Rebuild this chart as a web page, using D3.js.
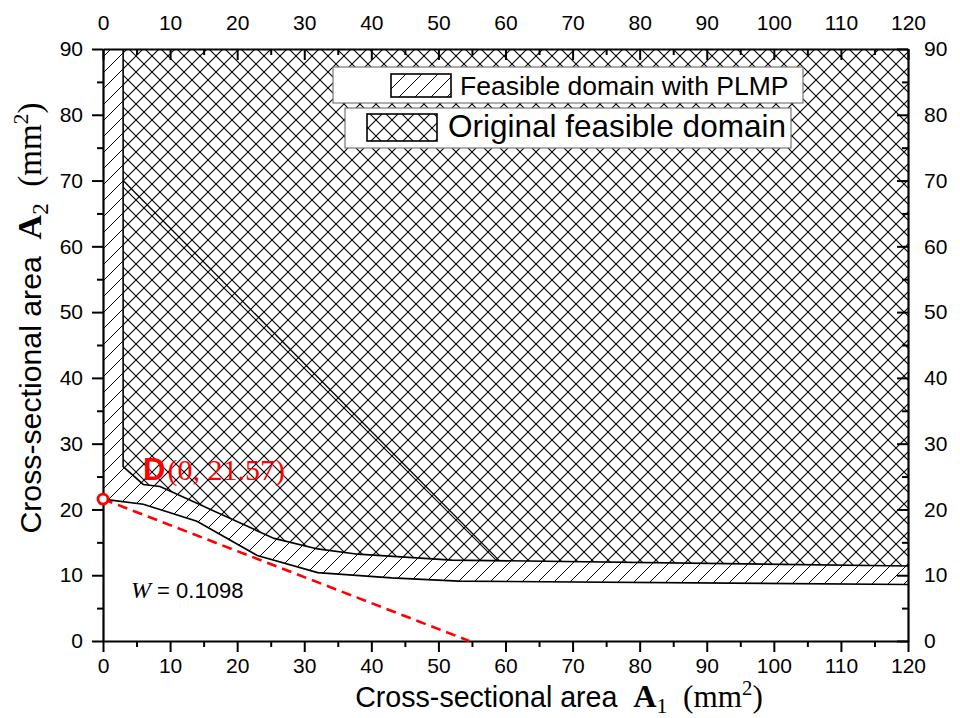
<!DOCTYPE html>
<html>
<head>
<meta charset="utf-8">
<script src="https://cdn.jsdelivr.net/npm/d3@7"></script>
<style>
  html, body { margin: 0; padding: 0; background: #fff; }
  svg { display: block; }
  text { white-space: pre; }
</style>
</head>
<body>
<svg id="chart" width="960" height="718"></svg>
<script>
// Axis tick values
const xTickValues = [0, 10, 20, 30, 40, 50, 60, 70, 80, 90, 100, 110, 120];
const yTickValues = [0, 10, 20, 30, 40, 50, 60, 70, 80, 90];
const xMinorTicks = [5, 15, 25, 35, 45, 55, 65, 75, 85, 95, 105, 115];
const yMinorTicks = [5, 15, 25, 35, 45, 55, 65, 75, 85];

// Lower boundary of the feasible domain with PLMP (A1, A2)
const plmpBoundary = [
  [0, 21.57], [6, 20.8], [14, 18.2], [23, 13.0], [32, 10.4],
  [43, 9.6], [53, 9.1], [120, 8.6]
];
// Boundary of the original feasible domain (A1, A2)
const originalBoundary = [
  [3, 90], [3, 26.5], [6, 23.8], [8.5, 23.5], [14.5, 20.7], [25.5, 15.6],
  [32, 14.0], [38, 13.2], [52, 12.3], [120, 11.4]
];
// Constraint line crossing the original domain
const innerLine = [[3, 70], [59, 12.3]];
// Optimal point D and the objective line through it
const pointD = [0, 21.57];
const objectiveLine = [[0, 21.57], [54.6, 0]];
const objectiveValue = "0.1098";

const legendLabels = ["Feasible domain with PLMP", "Original feasible domain"];

const svg = d3.select("#chart");
const L = 103, R = 908, T = 49, B = 641;
const x = d3.scaleLinear().domain([0, 120]).range([L, R]);
const y = d3.scaleLinear().domain([0, 90]).range([B, T]);

// hatch patterns, aligned in user space
const defs = svg.append("defs");
const P = 16;
const single = defs.append("pattern").attr("id", "hatch")
  .attr("patternUnits", "userSpaceOnUse").attr("width", P).attr("height", P);
single.append("rect").attr("width", P).attr("height", P).attr("fill", "#fff");
single.append("path")
  .attr("d", `M0,${P} L${P},0 M${-P/2},${P/2} L${P/2},${-P/2} M${P/2},${P*1.5} L${P*1.5},${P/2}`)
  .attr("stroke", "#000").attr("stroke-width", 1);

const cross = defs.append("pattern").attr("id", "crosshatch")
  .attr("patternUnits", "userSpaceOnUse").attr("width", P).attr("height", P);
cross.append("rect").attr("width", P).attr("height", P).attr("fill", "#fff");
cross.append("path")
  .attr("d", `M0,${P} L${P},0 M${-P/2},${P/2} L${P/2},${-P/2} M${P/2},${P*1.5} L${P*1.5},${P/2}` +
             ` M0,0 L${P},${P} M${-P/2},${P/2} L${P/2},${P*1.5} M${P/2},${-P/2} L${P*1.5},${P/2}`)
  .attr("stroke", "#000").attr("stroke-width", 1.1);

defs.append("clipPath").attr("id", "plotClip")
  .append("rect").attr("x", L).attr("y", T).attr("width", R - L).attr("height", B - T);

const line = d3.line().x(d => x(d[0])).y(d => y(d[1]));
const plot = svg.append("g").attr("clip-path", "url(#plotClip)");

// feasible domain with PLMP: everything above its lower boundary
const plmpArea = [[0, 90], ...plmpBoundary, [120, 90]];
plot.append("path").attr("d", line(plmpArea) + "Z").attr("fill", "url(#hatch)");

// original feasible domain
const origArea = [...originalBoundary, [120, 90]];
plot.append("path").attr("d", line(origArea) + "Z").attr("fill", "url(#crosshatch)");

plot.append("path").attr("d", line(plmpBoundary))
  .attr("fill", "none").attr("stroke", "#000").attr("stroke-width", 1.6);
plot.append("path").attr("d", line(originalBoundary))
  .attr("fill", "none").attr("stroke", "#000").attr("stroke-width", 1.6);
plot.append("path").attr("d", line(innerLine))
  .attr("fill", "none").attr("stroke", "#000").attr("stroke-width", 1.3);

// legend
const lg = svg.append("g");
const legendRows = [
  { box: [333, 67, 470, 36], sw: [391, 74, 60, 23], fill: "url(#hatch)", tx: 460, ty: 95, size: 26.5 },
  { box: [345, 108, 446, 40], sw: [367, 114, 70, 27], fill: "url(#crosshatch)", tx: 448, ty: 137, size: 31.5 }
];
legendRows.forEach((r, i) => {
  lg.append("rect").attr("x", r.box[0]).attr("y", r.box[1]).attr("width", r.box[2]).attr("height", r.box[3])
    .attr("fill", "#fff").attr("stroke", "#777").attr("stroke-width", 1.2);
  lg.append("rect").attr("x", r.sw[0]).attr("y", r.sw[1]).attr("width", r.sw[2]).attr("height", r.sw[3])
    .attr("fill", r.fill).attr("stroke", "#000").attr("stroke-width", 1.6);
  lg.append("text").attr("x", r.tx).attr("y", r.ty)
    .attr("font-family", "Liberation Sans, Arial, sans-serif").attr("font-size", r.size)
    .attr("fill", "#000").text(legendLabels[i]);
});

// axes
const font = "Liberation Sans, Arial, sans-serif";
function styleAxis(g) {
  g.selectAll("path.domain").attr("stroke", "#000").attr("stroke-width", 2.2);
  g.selectAll(".tick line").attr("stroke", "#000").attr("stroke-width", 2);
  g.selectAll("text").attr("font-family", font).attr("font-size", 21).attr("fill", "#000");
}
const fmt = d3.format("d");

const gB = svg.append("g").attr("transform", `translate(0,${B})`)
  .call(d3.axisBottom(x).tickValues(xTickValues).tickFormat(fmt).tickSizeInner(11).tickSizeOuter(0).tickPadding(6));
styleAxis(gB);
svg.append("g").attr("transform", `translate(0,${B})`)
  .call(d3.axisBottom(x).tickValues(xMinorTicks).tickFormat("").tickSizeInner(6).tickSizeOuter(0))
  .call(g => { g.select("path.domain").remove(); styleAxis(g); });

const gT = svg.append("g").attr("transform", `translate(0,${T})`)
  .call(d3.axisTop(x).tickValues(xTickValues).tickFormat(fmt).tickSizeInner(-11).tickSizeOuter(0).tickPadding(19));
styleAxis(gT);
svg.append("g").attr("transform", `translate(0,${T})`)
  .call(d3.axisTop(x).tickValues(xMinorTicks).tickFormat("").tickSizeInner(-6).tickSizeOuter(0))
  .call(g => { g.select("path.domain").remove(); styleAxis(g); });

const gL = svg.append("g").attr("transform", `translate(${L},0)`)
  .call(d3.axisLeft(y).tickValues(yTickValues).tickFormat(fmt).tickSizeInner(11).tickSizeOuter(0).tickPadding(9));
styleAxis(gL);
svg.append("g").attr("transform", `translate(${L},0)`)
  .call(d3.axisLeft(y).tickValues(yMinorTicks).tickFormat("").tickSizeInner(6).tickSizeOuter(0))
  .call(g => { g.select("path.domain").remove(); styleAxis(g); });

const gR = svg.append("g").attr("transform", `translate(${R},0)`)
  .call(d3.axisRight(y).tickValues(yTickValues).tickFormat(fmt).tickSizeInner(-11).tickSizeOuter(0).tickPadding(16));
styleAxis(gR);
svg.append("g").attr("transform", `translate(${R},0)`)
  .call(d3.axisRight(y).tickValues(yMinorTicks).tickFormat("").tickSizeInner(-6).tickSizeOuter(0))
  .call(g => { g.select("path.domain").remove(); styleAxis(g); });

// objective line and point D
svg.append("path").attr("d", line(objectiveLine))
  .attr("fill", "none").attr("stroke", "#ff0000").attr("stroke-width", 2.6)
  .attr("stroke-dasharray", "10,6");
svg.append("circle").attr("cx", x(pointD[0])).attr("cy", y(pointD[1])).attr("r", 5)
  .attr("fill", "#fff").attr("stroke", "#ff0000").attr("stroke-width", 2.8);

const dLabel = svg.append("text").attr("x", x(pointD[0]) + 40).attr("y", 480).attr("fill", "#ff0000");
dLabel.append("tspan").attr("font-family", font).attr("font-weight", "bold").attr("font-size", 31).text("D");
dLabel.append("tspan").attr("font-family", "Liberation Serif, Times New Roman, serif").attr("font-size", 30)
  .attr("dx", 2).text(`(${pointD[0]}, ${pointD[1]})`);

const wLabel = svg.append("text").attr("x", 131).attr("y", 598).attr("fill", "#000");
wLabel.append("tspan").attr("font-family", "Liberation Serif, Times New Roman, serif").attr("font-style", "italic").attr("font-size", 24).text("W");
wLabel.append("tspan").attr("font-family", font).attr("font-size", 22).text(` = ${objectiveValue}`);

// axis titles with math parts
const serif = "Liberation Serif, Times New Roman, serif";
function axisTitle(sel, sub, k) {
  sel.append("tspan").attr("font-family", font).attr("font-size", 27.5 * k).text("Cross-sectional area  ");
  sel.append("tspan").attr("font-family", serif).attr("font-weight", "bold").attr("font-size", 31 * k).text("A");
  sel.append("tspan").attr("font-family", serif).attr("font-size", 21 * k).attr("dy", 6 * k).text(sub);
  sel.append("tspan").attr("font-family", serif).attr("font-size", 30 * k).attr("dy", -6 * k).text("  (mm");
  sel.append("tspan").attr("font-family", serif).attr("font-size", 20 * k).attr("dy", -12 * k).text("2");
  sel.append("tspan").attr("font-family", serif).attr("font-size", 30 * k).attr("dy", 12 * k).text(")");
}
svg.append("text").attr("x", 559).attr("y", 707).attr("text-anchor", "middle").attr("fill", "#000")
  .call(s => axisTitle(s, "1", 1.04));
svg.append("text").attr("transform", "translate(41,318) rotate(-90)").attr("text-anchor", "middle").attr("fill", "#000")
  .call(s => axisTitle(s, "2", 1.1));
</script>
</body>
</html>
